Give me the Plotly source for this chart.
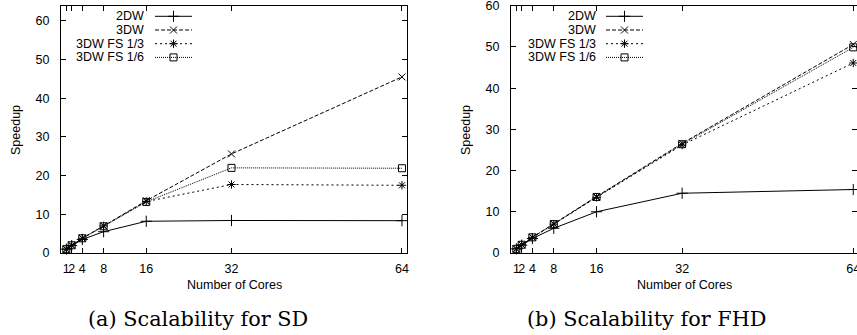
import plotly.graph_objects as go

# ---------------- data ----------------
cores = [1, 2, 4, 8, 16, 32, 64]
core_ticks = ["1", "2", "4", "8", "16", "32", "64"]
series_names = ["2DW", "3DW", "3DW FS 1/3", "3DW FS 1/6"]

sd_2dw = [1.0, 1.9, 3.5, 5.5, 8.2, 8.4, 8.35]
sd_3dw = [1.0, 2.0, 3.8, 7.0, 13.5, 25.6, 45.5]
sd_fs13 = [1.0, 2.0, 3.8, 7.0, 13.3, 17.7, 17.5]
sd_fs16 = [1.0, 2.0, 3.8, 6.9, 13.2, 22.0, 21.9]

fhd_2dw = [1.0, 1.9, 3.5, 6.0, 10.0, 14.5, 15.4]
fhd_3dw = [1.0, 2.0, 3.8, 7.1, 13.7, 26.6, 50.6]
fhd_fs13 = [1.0, 2.0, 3.8, 7.0, 13.5, 26.2, 46.1]
fhd_fs16 = [1.0, 2.0, 3.8, 7.0, 13.6, 26.4, 49.9]

y_ticks = [0, 10, 20, 30, 40, 50, 60]
captions = ["(a) Scalability for SD", "(b) Scalability for FHD"]

# ---------------- styles ----------------
W, H = 857, 335
FONT = "Liberation Sans, Arial, sans-serif"
FS = 12.5
dashes = ["solid", "4px,2px", "2px,3px", "1px,1px"]
symbols = ["cross-thin-open", "x-thin-open", "asterisk-open", "square-open"]
msizes = [8, 7, 7, 7]

fig = go.Figure()

panels = [
    dict(xa="x", ya="y", data=[sd_2dw, sd_3dw, sd_fs13, sd_fs16]),
    dict(xa="x2", ya="y2", data=[fhd_2dw, fhd_3dw, fhd_fs13, fhd_fs16]),
]

for p in panels:
    for i, ys in enumerate(p["data"]):
        fig.add_trace(go.Scatter(
            x=cores, y=ys, xaxis=p["xa"], yaxis=p["ya"],
            mode="lines+markers", showlegend=False,
            line=dict(color="black", width=1, dash=dashes[i]),
            marker=dict(symbol=symbols[i], size=msizes[i], color="black",
                        line=dict(color="black", width=1)),
            cliponaxis=False,
        ))

# ---------------- manual legends (pixel overlay axes) ----------------
legend_rows = [16.3, 30.0, 43.7, 57.4]
legend_specs = [
    dict(text_right=146, x0=155, x1=192),
    dict(text_right=598, x0=606, x1=643),
]
annotations = []
for spec in legend_specs:
    for i, name in enumerate(series_names):
        yy = legend_rows[i]
        fig.add_trace(go.Scatter(
            x=[spec["x0"], spec["x1"]], y=[yy, yy], xaxis="x3", yaxis="y3",
            mode="lines", showlegend=False, hoverinfo="skip",
            line=dict(color="black", width=1, dash=dashes[i]),
        ))
        fig.add_trace(go.Scatter(
            x=[(spec["x0"] + spec["x1"]) / 2], y=[yy], xaxis="x3", yaxis="y3",
            mode="markers", showlegend=False, hoverinfo="skip",
            marker=dict(symbol=symbols[i], size=msizes[i], color="black",
                        line=dict(color="black", width=1)),
        ))
        annotations.append(dict(
            x=spec["text_right"] / W, y=1 - yy / H, xref="paper", yref="paper",
            xanchor="right", yanchor="middle", text=name, showarrow=False,
            font=dict(family=FONT, size=FS, color="black"),
        ))

# axis titles & captions
plot_bottom, plot_top = 253, 5.7
ydom = [(H - plot_bottom) / H, (H - plot_top) / H]
left_dom = [61 / W, 407.3 / W]
right_dom = [511 / W, 1.0]

for dom, cap in zip([left_dom, right_dom], captions):
    cx = (dom[0] + dom[1]) / 2
    annotations.append(dict(
        x=cx, y=1 - 284.5 / H, xref="paper", yref="paper",
        xanchor="center", yanchor="middle", text="Number of Cores",
        showarrow=False, font=dict(family=FONT, size=FS, color="black")))
    annotations.append(dict(
        x=dom[0] - 45 / W, y=1 - 130 / H, xref="paper", yref="paper",
        xanchor="center", yanchor="middle", text="Speedup", textangle=-90,
        showarrow=False, font=dict(family=FONT, size=FS, color="black")))
annotations.append(dict(
    x=197.5 / W, y=1 - 318.5 / H, xref="paper", yref="paper",
    xanchor="center", yanchor="middle", text=captions[0], showarrow=False,
    font=dict(family="DejaVu Serif, serif", size=20.8, color="black")))
annotations.append(dict(
    x=646.5 / W, y=1 - 318.5 / H, xref="paper", yref="paper",
    xanchor="center", yanchor="middle", text=captions[1], showarrow=False,
    font=dict(family="DejaVu Serif, serif", size=20.8, color="black")))

common_x = dict(
    tickvals=cores, ticktext=core_ticks, tickangle=0,
    ticks="inside", ticklen=5, tickcolor="black", tickwidth=1,
    showline=True, linecolor="black", linewidth=1, mirror="ticks",
    showgrid=False, zeroline=False, automargin=False,
    ticklabeloverflow="allow",
    tickfont=dict(family=FONT, size=FS, color="black"),
    ticklabelstandoff=4,
)
common_y = dict(
    tickvals=y_ticks, ticks="inside", ticklen=5, tickcolor="black", tickwidth=1,
    showline=True, linecolor="black", linewidth=1, mirror="ticks",
    showgrid=False, zeroline=False, automargin=False,
    ticklabeloverflow="allow",
    tickfont=dict(family=FONT, size=FS, color="black"),
    ticklabelstandoff=8,
)

fig.update_layout(
    template="none",
    width=W, height=H, autosize=False,
    margin=dict(l=0, r=0, t=0, b=0, pad=0),
    paper_bgcolor="white", plot_bgcolor="rgba(0,0,0,0)",
    showlegend=False,
    xaxis=dict(domain=left_dom, range=[0, 65], anchor="y", **common_x),
    yaxis=dict(domain=ydom, range=[0, 63.9], anchor="x", **common_y),
    xaxis2=dict(domain=right_dom, range=[0, 64.7], anchor="y2", **common_x),
    yaxis2=dict(domain=ydom, range=[0, 60], anchor="x2", **common_y),
    xaxis3=dict(domain=[0, 1], range=[0, W], visible=False, anchor="y3",
                fixedrange=True, automargin=False),
    yaxis3=dict(domain=[0, 1], range=[H, 0], visible=False, anchor="x3",
                fixedrange=True, automargin=False),
    annotations=annotations,
)

fig.write_html(
    "out.html",
    config={"displayModeBar": False},
    post_script="document.body.style.margin='0';document.body.style.overflow='hidden';",
)
